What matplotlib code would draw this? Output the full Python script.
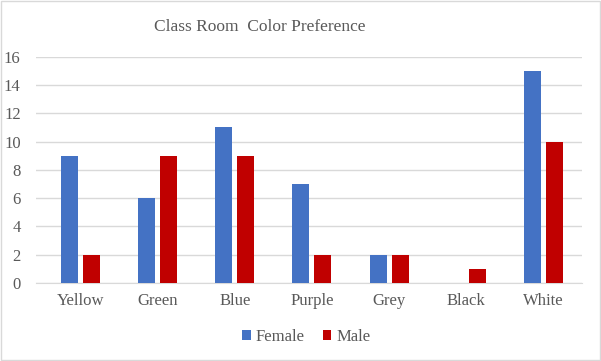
import matplotlib.pyplot as plt
import numpy as np
from matplotlib.patches import Rectangle

plt.rcParams["font.family"] = ["Liberation Serif", "DejaVu Serif"]

categories = ["Yellow", "Green", "Blue", "Purple", "Grey", "Black", "White"]
female = [9, 6, 11, 7, 2, 0, 15]
male = [2, 9, 9, 2, 2, 1, 10]

BLUE = "#4472C4"
RED = "#C00000"
TXT = "#595959"
GRID = "#D9D9D9"

fig = plt.figure(figsize=(6.01, 3.61), dpi=100)
ax = fig.add_axes([0.0599, 0.216, 0.9085, 0.627])

x = np.arange(len(categories))
w = 0.22
off = 0.1425
ax.bar(x - off, female, width=w, color=BLUE, label="Female", zorder=3)
ax.bar(x + off, male, width=w, color=RED, label="Male", zorder=3)

ax.set_xlim(-0.576, 6.5)
ax.set_ylim(0, 16)
ax.set_yticks(range(0, 17, 2))
ax.set_xticks(x)
ax.set_xticklabels(categories)
ax.yaxis.grid(True, color=GRID, linewidth=1, zorder=0)
ax.tick_params(axis="both", length=0, colors=TXT, labelsize=12)
ax.tick_params(axis="x", pad=7)
ax.tick_params(axis="y", pad=11)
for s in ["top", "right", "left"]:
    ax.spines[s].set_visible(False)
ax.spines["bottom"].set_color(GRID)

fig.text(0.433, 0.925, "Class Room  Color Preference", ha="center", va="center",
         fontsize=12.5, color=TXT)

fig.legend(loc="center", bbox_to_anchor=(0.51, 0.067), ncol=2, frameon=False,
           fontsize=12, labelcolor=TXT, handlelength=0.5, handleheight=0.5,
           handletextpad=0.3, columnspacing=1.1)

fig.add_artist(Rectangle((0.001, 0.002), 0.997, 0.995, transform=fig.transFigure,
                         fill=False, edgecolor=GRID, linewidth=1))

fig.savefig("out.png", dpi=100)
